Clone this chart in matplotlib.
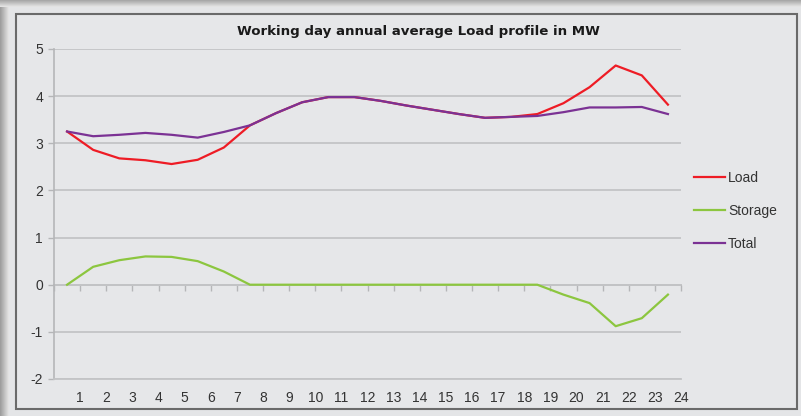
import numpy as np
import matplotlib
matplotlib.use("Agg")
import matplotlib.pyplot as plt
from matplotlib.patches import Rectangle

# ---- data ----
hours = [h + 0.5 for h in range(24)]
tick_labels = [str(i) for i in range(1, 25)]
load = [3.25, 2.86, 2.68, 2.64, 2.56, 2.65, 2.91, 3.38, 3.64, 3.87, 3.98, 3.98,
        3.90, 3.80, 3.71, 3.62, 3.54, 3.56, 3.62, 3.85, 4.19, 4.65, 4.44, 3.82]
storage = [0.0, 0.38, 0.52, 0.60, 0.59, 0.50, 0.28, 0.0, 0.0, 0.0, 0.0, 0.0,
           0.0, 0.0, 0.0, 0.0, 0.0, 0.0, 0.0, -0.21, -0.39, -0.88, -0.71, -0.21]
total = [3.25, 3.15, 3.18, 3.22, 3.18, 3.12, 3.24, 3.38, 3.64, 3.87, 3.98, 3.98,
         3.90, 3.80, 3.71, 3.62, 3.54, 3.56, 3.58, 3.66, 3.76, 3.76, 3.77, 3.62]
series_names = ["Load", "Storage", "Total"]
title = "Working day annual average Load profile in MW"

W, H = 801, 416
fig = plt.figure(figsize=(W / 100, H / 100), dpi=100)
fig.patch.set_facecolor("#e4e5e7")
plt.rcParams['font.family'] = ['Liberation Sans', 'DejaVu Sans']
plt.rcParams['axes.unicode_minus'] = False

# background with gradient strips
bg = fig.add_axes([0, 0, 1, 1], zorder=-10)
bg.set_xlim(0, W)
bg.set_ylim(H, 0)
bg.axis("off")
img = np.ones((H, W, 3)) * np.array([0xe4, 0xe5, 0xe7]) / 255
top = np.linspace(0.66, 0.89, 7)
for i, v in enumerate(top):
    img[i, :, :] = v
left = np.linspace(0.62, 0.89, 9)
for j, v in enumerate(left):
    img[7:, j, :] = np.minimum(img[7:, j, :], v)
bg.imshow(img, extent=(0, W, H, 0), aspect="auto", interpolation="nearest")
bg.add_patch(Rectangle((16, 14), 781, 395, fill=True, facecolor="#e6e7e9",
                       edgecolor="#6a6a6a", lw=1.5))

ax = fig.add_axes([54 / W, 1 - 379 / H, (681 - 54) / W, (379 - 49) / H])
ax.set_facecolor("none")

colors = ["#ee1c25", "#8cc63f", "#7b3294"]
for vals, name, c in zip([load, storage, total], series_names, colors):
    ax.plot(hours, vals, color=c, lw=1.6, label=name, solid_joinstyle="round")

ax.set_xlim(0, 24)
ax.set_ylim(-2, 5)
ax.set_yticks(range(-2, 6))
ax.grid(axis="y", color="#c3c4c6", lw=1.3)
ax.set_axisbelow(True)
for s in ["top", "right"]:
    ax.spines[s].set_visible(False)
ax.spines["left"].set_color("#b5b6b8")
ax.spines["left"].set_linewidth(1.2)
ax.spines["bottom"].set_color("#c3c4c6")
ax.spines["bottom"].set_linewidth(1.3)
ax.tick_params(axis="y", length=4, width=1.0, color="#b5b6b8", pad=4,
               labelsize=10, labelcolor="#333333")
ax.set_xticks(range(1, 25))
ax.set_xticklabels(tick_labels)
ax.tick_params(axis="x", length=0, pad=9, labelsize=10, labelcolor="#333333")

# zero axis with tick marks
sec = ax.secondary_xaxis(2 / 7)
sec.set_xticks(range(0, 25))
sec.tick_params(axis="x", length=4, width=1.0, color="#b5b6b8", labelbottom=False,
                direction="out")
sec.spines["bottom"].set_color("#b5b6b8")
sec.spines["bottom"].set_linewidth(1.2)

fig.text(418 / W, 1 - 31 / H, title, ha="center", va="center", fontsize=9.6,
         fontweight="bold", color="#1a1a1a", family=["DejaVu Sans"])

fig.legend(loc="center left", bbox_to_anchor=(681 / W, 1 - 211 / H), frameon=False,
           fontsize=10, handlelength=2.25, handletextpad=0.25, labelspacing=1.35,
           labelcolor="#333333")

fig.savefig("out.png", dpi=100, facecolor=fig.get_facecolor())
